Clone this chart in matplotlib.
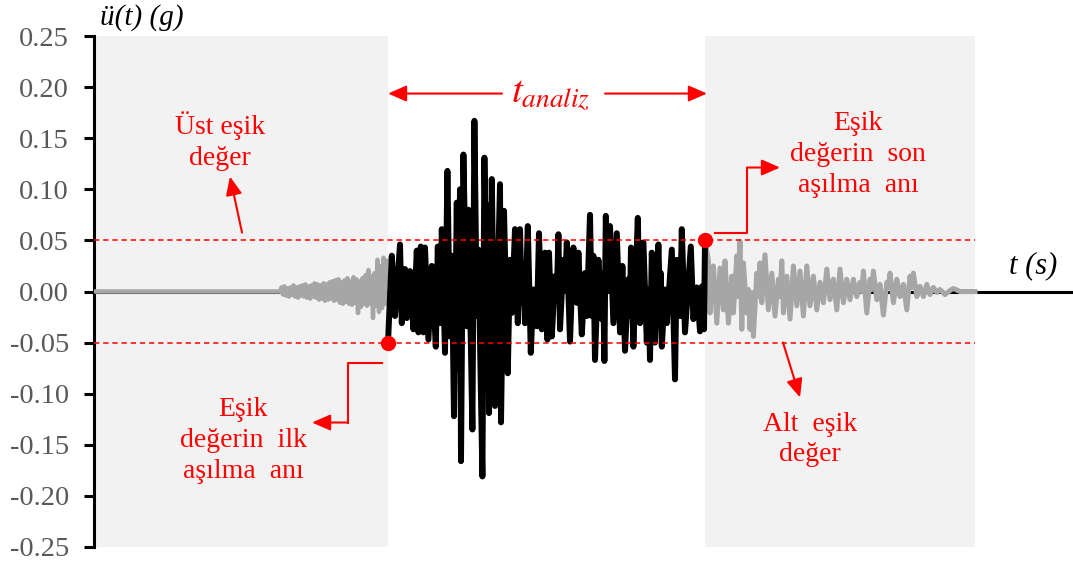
import matplotlib
matplotlib.use('Agg')
import matplotlib.pyplot as plt

plt.rcParams['font.family'] = 'Liberation Serif'
plt.rcParams['mathtext.fontset'] = 'stix'
plt.rcParams['axes.unicode_minus'] = False

GRAY = '#a6a6a6'
SHADE = '#f2f2f2'
RED = '#ff0000'
TICK_COLOR = '#595959'
THRESHOLD = 0.05

# time (s) and acceleration (g) before the first threshold exceedance
pre_t = [0.000, 9.300, 9.375, 9.450, 9.525, 9.600, 9.675, 9.750, 9.825, 9.900, 9.975,
         10.050, 10.125, 10.200, 10.275, 10.350, 10.425, 10.500, 10.575, 10.650, 10.725,
         10.800, 10.875, 10.950, 11.025, 11.100, 11.175, 11.250, 11.325, 11.400, 11.475,
         11.550, 11.625, 11.700, 11.775, 11.850, 11.925, 12.000, 12.075, 12.150, 12.225,
         12.300, 12.375, 12.450, 12.525, 12.600, 12.675, 12.750, 12.825, 12.900, 12.975,
         13.050, 13.125, 13.200, 13.275, 13.350, 13.425, 13.500, 13.575, 13.650, 13.725,
         13.800, 13.875, 13.950, 14.025, 14.100, 14.175, 14.250, 14.325, 14.400, 14.475,
         14.550, 14.625]
pre_a = [0.000, 0.000, 0.004, -0.003, 0.005, -0.004, 0.003, -0.005, 0.004, -0.003, 0.006,
         -0.005, 0.004, -0.006, 0.005, -0.004, 0.006, -0.005, 0.007, -0.006, 0.005,
         -0.007, 0.006, -0.005, 0.008, -0.006, 0.007, -0.008, 0.006, -0.007, 0.008,
         -0.009, 0.007, -0.008, 0.009, -0.007, 0.010, -0.009, 0.011, -0.008, 0.012,
         -0.011, 0.009, -0.012, 0.011, -0.010, 0.013, -0.012, 0.010, -0.013, 0.014,
         -0.011, 0.012, -0.021, 0.010, -0.015, 0.013, -0.012, 0.016, -0.014, 0.021,
         -0.012, 0.015, -0.026, 0.018, -0.014, 0.031, -0.020, 0.025, -0.016, 0.033,
         -0.012, 0.030]

# strong motion part, between first and last exceedance
main_t = [14.70, 14.89, 15.05, 15.30, 15.39, 15.55, 15.64, 15.80, 15.97, 16.14,
          16.22, 16.34, 16.47, 16.55, 16.72, 16.89, 17.09, 17.19, 17.30, 17.39,
          17.55, 17.67, 17.80, 17.89, 18.00, 18.14, 18.22, 18.30, 18.35, 18.47,
          18.64, 18.72, 18.92, 19.02, 19.14, 19.22, 19.42, 19.52, 19.64, 19.72,
          19.75, 19.89, 20.05, 20.30, 20.35, 20.50, 20.69, 20.80, 20.89, 21.05,
          21.19, 21.30, 21.39, 21.47, 21.55, 21.69, 21.84, 21.97, 22.14, 22.25,
          22.39, 22.55, 22.67, 22.75, 22.89, 23.05, 23.14, 23.22, 23.30, 23.47,
          23.55, 23.64, 23.80, 23.97, 24.14, 24.22, 24.39, 24.55, 24.64, 24.80,
          24.89, 24.97, 25.05, 25.22, 25.39, 25.45, 25.52, 25.59, 25.72, 25.80,
          25.97, 26.14, 26.30, 26.42, 26.55, 26.72, 26.79, 26.85, 26.97, 27.19,
          27.30, 27.47, 27.64, 27.72, 27.80, 27.89, 28.05, 28.22, 28.30, 28.34,
          28.39, 28.55, 28.64, 28.89, 29.05, 29.14, 29.30, 29.39, 29.55, 29.84,
          29.97, 30.14, 30.30, 30.40, 30.50, 30.55]
main_a = [-0.050, 0.035, -0.024, 0.046, -0.031, 0.022, -0.026, 0.020, -0.037, 0.040,
          -0.040, 0.044, -0.040, 0.043, -0.047, 0.025, -0.054, 0.044, -0.031, 0.061,
          -0.060, 0.118, -0.044, 0.035, -0.122, 0.087, -0.076, 0.100, -0.166, 0.134,
          -0.034, 0.080, -0.135, 0.167, -0.024, 0.041, -0.181, 0.131, -0.018, 0.084,
          -0.119, 0.110, -0.112, 0.105, -0.128, 0.079, -0.080, 0.031, -0.021, 0.061,
          -0.031, 0.061, -0.011, 0.015, -0.031, 0.064, -0.060, 0.002, -0.034, 0.057,
          -0.037, 0.038, -0.047, 0.038, -0.044, 0.015, -0.005, 0.056, -0.037, 0.031,
          0.002, 0.048, -0.049, 0.043, -0.011, 0.038, -0.042, 0.018, -0.024, 0.075,
          -0.024, 0.035, -0.067, 0.031, -0.027, 0.018, -0.068, 0.074, 0.002, 0.064,
          -0.031, 0.057, -0.040, 0.025, -0.058, 0.012, -0.024, 0.043, -0.054, 0.072,
          -0.031, 0.048, -0.050, 0.002, -0.067, 0.038, -0.050, 0.046, -0.014, 0.018,
          -0.054, 0.002, -0.031, 0.041, -0.086, 0.031, -0.024, 0.061, -0.040, 0.044,
          -0.027, 0.004, -0.039, 0.005, -0.037, 0.050]

# coda after the last exceedance
post_t = [30.55, 30.72, 30.80, 30.97, 31.14, 31.30, 31.47, 31.55, 31.72, 31.89,
          31.97, 32.14, 32.22, 32.30, 32.39, 32.47, 32.64, 32.72, 32.80, 32.89,
          32.97, 33.14, 33.22, 33.30, 33.39, 33.55, 33.72, 33.89, 34.05, 34.22,
          34.30, 34.39, 34.47, 34.64, 34.80, 34.97, 35.14, 35.30, 35.47, 35.64,
          35.80, 35.97, 36.14, 36.30, 36.47, 36.64, 36.80, 36.97, 37.14, 37.30,
          37.47, 37.64, 37.80, 37.97, 38.14, 38.30, 38.39, 38.47, 38.64, 38.80,
          38.89, 38.97, 39.14, 39.30, 39.47, 39.64, 39.72, 39.80, 39.97, 40.14,
          40.30, 40.47, 40.64, 40.80, 40.89, 40.97, 41.14, 41.30, 41.47, 41.64,
          41.80, 41.97, 42.14, 42.30, 42.55, 42.80, 42.97, 43.30, 44.05]
post_a = [0.050, 0.030, -0.021, 0.025, -0.031, 0.023, -0.018, 0.030, -0.031, 0.015,
          -0.021, 0.035, -0.005, 0.049, -0.037, 0.028, -0.021, 0.002, -0.037, -0.001,
          -0.044, 0.018, -0.005, 0.028, -0.011, 0.036, -0.018, 0.018, -0.024, 0.012,
          -0.005, 0.030, -0.021, 0.015, -0.027, 0.025, -0.014, 0.020, -0.024, 0.025,
          -0.014, 0.015, -0.018, 0.009, -0.011, 0.022, -0.008, 0.012, -0.018, 0.022,
          -0.011, 0.012, -0.008, 0.012, -0.005, 0.009, 0.000, 0.020, -0.021, 0.012,
          0.002, 0.020, -0.008, 0.007, -0.023, 0.009, 0.004, 0.018, -0.011, 0.012,
          -0.005, 0.007, -0.018, 0.015, 0.004, 0.018, -0.005, 0.005, -0.005, 0.007,
          -0.003, 0.004, -0.001, 0.002, -0.003, 0.001, 0.003, 0.000, 0.000]

y_ticks = [-0.25, -0.20, -0.15, -0.10, -0.05, 0.00, 0.05, 0.10, 0.15, 0.20, 0.25]


def arrow(ax, tail, head):
    ax.annotate('', xy=head, xytext=tail,
                arrowprops=dict(arrowstyle='-|>,head_length=0.8,head_width=0.35',
                                color=RED, lw=1.5, mutation_scale=14,
                                shrinkA=0, shrinkB=0), zorder=6)


def label(ax, x, y, s):
    ax.text(x, y, s, color=RED, fontsize=20, ha='center', va='center',
            multialignment='center', linespacing=1.3, zorder=6)


fig = plt.figure(figsize=(10.73, 5.63), dpi=100)
ax = fig.add_axes([94 / 1073, 16 / 563, 979 / 1073, 511 / 563])
ax.set_xlim(0, 48.95)
ax.set_ylim(-0.25, 0.25)

# shaded parts outside the analysis window
t_start = main_t[0]
t_end = main_t[-1]
ax.axvspan(0.05, t_start, color=SHADE, lw=0, zorder=0)
ax.axvspan(t_end, post_t[-1], color=SHADE, lw=0, zorder=0)

ax.plot(pre_t, pre_a, color=GRAY, lw=3.2, solid_joinstyle='round', zorder=3)
ax.plot(post_t, post_a, color=GRAY, lw=3.6, solid_joinstyle='round', zorder=3)
ax.plot(main_t, main_a, color='black', lw=4.3, solid_joinstyle='round', zorder=3)

# threshold lines and exceedance points
for lvl in (THRESHOLD, -THRESHOLD):
    ax.hlines(lvl, 0, post_t[-1], color=RED, lw=1.1, linestyle=(0, (3.5, 2.5)), zorder=4)
ax.plot([t_start, t_end], [main_a[0], main_a[-1]], 'o', color=RED, ms=10, zorder=5)

# axes styling
for side in ('top', 'right'):
    ax.spines[side].set_visible(False)
ax.spines['bottom'].set_position(('data', 0))
ax.spines['left'].set_linewidth(2.2)
ax.spines['bottom'].set_linewidth(2.2)
ax.set_xticks([])
ax.set_yticks(y_ticks)
ax.set_yticklabels(['%.2f' % v for v in y_ticks])
ax.tick_params(axis='y', direction='out', length=7, width=2.2, pad=11,
               labelsize=20.5, labelcolor=TICK_COLOR)
ax.set_facecolor('white')

fig.text(100 / 1073, 1 - 18 / 563, 'ü(t) (g)', fontsize=21, style='italic',
         ha='left', va='center')
fig.text(1057 / 1073, 1 - 266 / 563, 't (s)', fontsize=22, style='italic',
         ha='right', va='center')

# annotations
label(ax, 6.3, 0.147, 'Üst eşik\ndeğer')
arrow(ax, (7.4, 0.0577), (6.8, 0.1125))

ax.text(22.85, 0.193, r'$t_{analiz}$', color=RED, fontsize=28, ha='center',
        va='center', zorder=6)
arrow(ax, (20.4, 0.1937), (t_start, 0.1937))
arrow(ax, (25.55, 0.1937), (30.65, 0.1937))

label(ax, 38.2, 0.134, 'Eşik\ndeğerin  son\naşılma  anı')
ax.plot([31.05, 32.65, 32.65], [0.0577, 0.0577, 0.1213], color=RED, lw=1.5, zorder=6)
arrow(ax, (32.65, 0.1213), (34.3, 0.1213))

label(ax, 35.8, -0.1448, 'Alt  eşik\ndeğer')
arrow(ax, (34.45, -0.0499), (35.3, -0.1037))

label(ax, 7.45, -0.1458, 'Eşik\ndeğerin  ilk\naşılma  anı')
ax.plot([14.4, 12.7, 12.7], [-0.0695, -0.0695, -0.1282], color=RED, lw=1.5, zorder=6)
arrow(ax, (12.7, -0.1282), (10.9, -0.1282))

fig.savefig('out.png', dpi=100)
